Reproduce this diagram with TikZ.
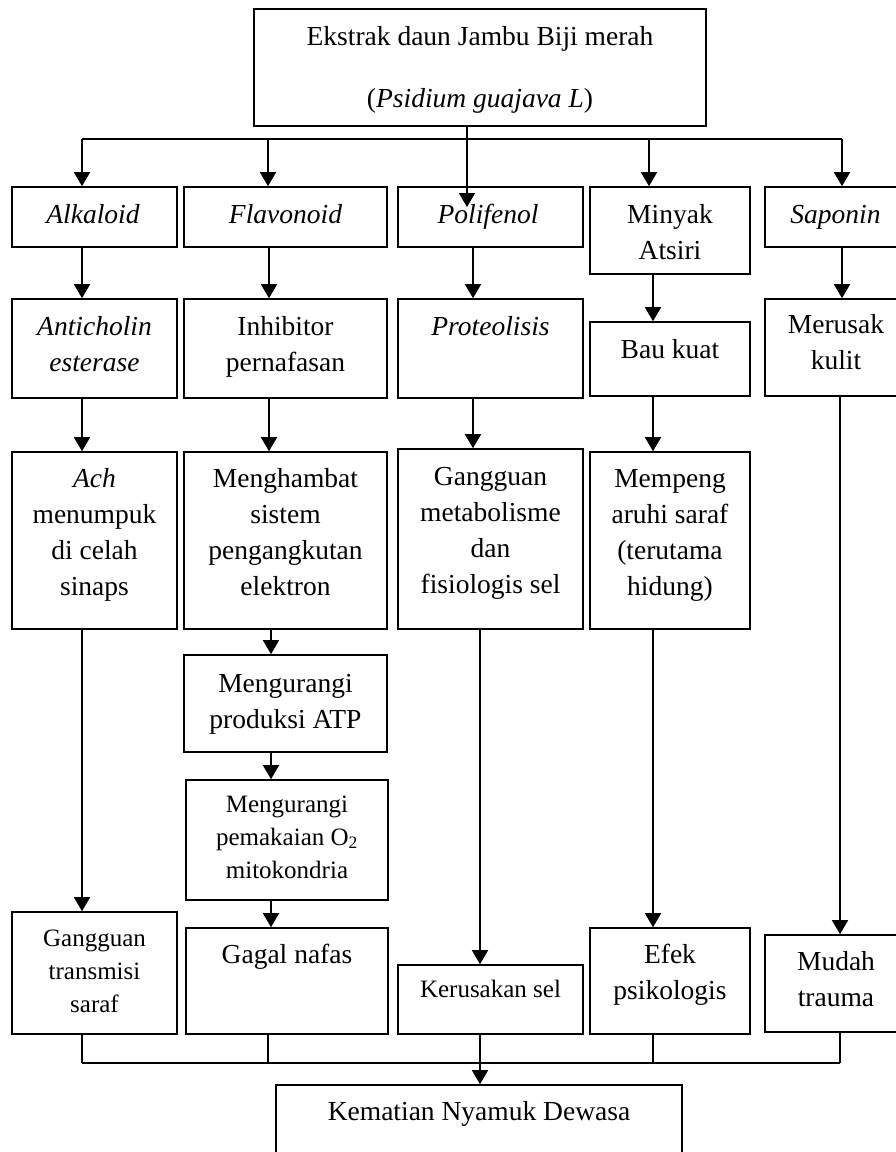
\documentclass[tikz,border=0pt]{standalone}
\usepackage{fontspec}
\setmainfont{Liberation Serif}
\usetikzlibrary{arrows.meta}
\begin{document}
\begin{tikzpicture}[x=1pt,y=-1pt,
  box/.style={draw, line width=1.6pt, inner sep=0pt},
  txt/.style={anchor=base, align=center, inner sep=0pt, font=\fontsize{27.5}{36}\selectfont},
  stxt/.style={anchor=base, align=center, inner sep=0pt, font=\fontsize{25}{33}\selectfont},
  ln/.style={line width=1.6pt},
  arr/.style={line width=1.6pt, -{Triangle[width=16pt,length=14pt]}}]
\clip (0,0) rectangle (896,1152);
\fill[white] (0,0) rectangle (896,1152);
% boxes
\node[box, minimum width=452, minimum height=117] (top) at (480,67.5) {};
\node[box, minimum width=165, minimum height=60] (alk) at (94.5,217) {};
\node[box, minimum width=203, minimum height=60] (fla) at (285.5,217) {};
\node[box, minimum width=185, minimum height=60] (pol) at (490.5,217) {};
\node[box, minimum width=160, minimum height=87] (min) at (670,230.5) {};
\node[box, minimum width=141, minimum height=60] (sap) at (835.5,217) {};
\node[box, minimum width=165, minimum height=99] (ant) at (94.5,348.5) {};
\node[box, minimum width=203, minimum height=99] (inh) at (285.5,348.5) {};
\node[box, minimum width=185, minimum height=99] (pro) at (490.5,348.5) {};
\node[box, minimum width=160, minimum height=74] (bau) at (670,359) {};
\node[box, minimum width=141, minimum height=97] (mer) at (835.5,347.5) {};
\node[box, minimum width=165, minimum height=177] (ach) at (94.5,540.5) {};
\node[box, minimum width=203, minimum height=177] (men) at (285.5,540.5) {};
\node[box, minimum width=185, minimum height=180] (gme) at (490.5,539) {};
\node[box, minimum width=160, minimum height=177] (mpg) at (670,540.5) {};
\node[box, minimum width=203, minimum height=97] (atp) at (285.5,703.5) {};
\node[box, minimum width=202, minimum height=120] (oks) at (287,840) {};
\node[box, minimum width=202, minimum height=106] (gag) at (287,981) {};
\node[box, minimum width=165, minimum height=122] (gts) at (94.5,973) {};
\node[box, minimum width=185, minimum height=69] (ker) at (490.5,999.5) {};
\node[box, minimum width=160, minimum height=106] (efk) at (670,981) {};
\node[box, minimum width=141, minimum height=97] (mud) at (835.5,983.5) {};
\node[box, minimum width=406, minimum height=80] (kem) at (479,1125) {};
% texts (anchor = baseline of last line)
\node[txt] (ttop) at (480,107) {Ekstrak daun Jambu Biji merah\\[26pt](\textit{Psidium guajava L})};
\node[txt] (talk) at (93,223) {\textit{Alkaloid}};
\node[txt] (tfla) at (285.5,223) {\textit{Flavonoid}};
\node[txt] (tpol) at (488,223) {\textit{Polifenol}};
\node[txt] (tmin) at (670,259) {Minyak\\Atsiri};
\node[txt] (tsap) at (835.5,223) {\textit{Saponin}};
\node[txt] (tant) at (94.5,371) {\textit{Anticholin}\\\textit{esterase}};
\node[txt] (tinh) at (285.5,371) {Inhibitor\\pernafasan};
\node[txt] (tpro) at (490.5,335) {\textit{Proteolisis}};
\node[txt] (tbau) at (670,358) {Bau kuat};
\node[txt] (tmer) at (836,369) {Merusak\\kulit};
\node[txt] (tach) at (94.5,595) {\textit{Ach}\\menumpuk\\di celah\\sinaps};
\node[txt] (tmen) at (285.5,595) {Menghambat\\sistem\\pengangkutan\\elektron};
\node[txt] (tgme) at (490.5,593) {Gangguan\\metabolisme\\dan\\fisiologis sel};
\node[txt] (tmpg) at (670,595) {Mempeng\\aruhi saraf\\(terutama\\hidung)};
\node[txt] (tatp) at (285.5,728) {Mengurangi\\produksi ATP};
\node[stxt] (toks) at (287,878) {Mengurangi\\pemakaian O\textsubscript{2}\\mitokondria};
\node[txt] (tgag) at (287,963) {Gagal nafas};
\node[stxt] (tgts) at (94.5,1012) {Gangguan\\transmisi\\saraf};
\node[stxt] (tker) at (490.5,997) {Kerusakan sel};
\node[txt] (tefk) at (670,999) {Efek\\psikologis};
\node[txt] (tmud) at (836,1006) {Mudah\\trauma};
\node[txt] (tkem) at (479,1120) {Kematian Nyamuk Dewasa};
% top branch
\coordinate (bL) at (82,139);
\coordinate (bF) at (268,139);
\coordinate (bM) at (649,139);
\coordinate (bR) at (842,139);
\coordinate (pend) at (467,207);
\draw[ln] (bL) -- (bR);
\draw[arr] (top.south -| pend) -- (pend);
\draw[arr] (bL) -- (bL |- alk.north);
\draw[arr] (bF) -- (bF |- fla.north);
\draw[arr] (bM) -- (bM |- min.north);
\draw[arr] (bR) -- (bR |- sap.north);
% column connectors
\coordinate (x1) at (82,0);
\coordinate (x2) at (269,0);
\coordinate (x3) at (473,0);
\coordinate (x4) at (653,0);
\coordinate (x5) at (842,0);
\coordinate (x6) at (271,0);
\coordinate (x7) at (480,0);
\coordinate (x8) at (840,0);
\draw[arr] (alk.south -| x1) -- (ant.north -| x1);
\draw[arr] (fla.south -| x2) -- (inh.north -| x2);
\draw[arr] (pol.south -| x3) -- (pro.north -| x3);
\draw[arr] (min.south -| x4) -- (bau.north -| x4);
\draw[arr] (sap.south -| x5) -- (mer.north -| x5);
\draw[arr] (ant.south -| x1) -- (ach.north -| x1);
\draw[arr] (inh.south -| x2) -- (men.north -| x2);
\draw[arr] (pro.south -| x3) -- (gme.north -| x3);
\draw[arr] (bau.south -| x4) -- (mpg.north -| x4);
\draw[arr] (men.south -| x6) -- (atp.north -| x6);
\draw[arr] (atp.south -| x6) -- (oks.north -| x6);
\draw[arr] (oks.south -| x6) -- (gag.north -| x6);
\draw[arr] (ach.south -| x1) -- (gts.north -| x1);
\draw[arr] (gme.south -| x7) -- (ker.north -| x7);
\draw[arr] (mpg.south -| x4) -- (efk.north -| x4);
\draw[arr] (mer.south -| x8) -- (mud.north -| x8);
% bottom bus
\coordinate (cL) at (82,1063);
\coordinate (cF) at (268,1063);
\coordinate (cK) at (480,1063);
\coordinate (cE) at (653,1063);
\coordinate (cR) at (840,1063);
\draw[ln] (cL) -- (cR);
\draw[ln] (gts.south -| cL) -- (cL);
\draw[ln] (gag.south -| cF) -- (cF);
\draw[ln] (efk.south -| cE) -- (cE);
\draw[ln] (mud.south -| cR) -- (cR);
\draw[arr] (ker.south -| cK) -- (kem.north -| cK);
\end{tikzpicture}
\end{document}
